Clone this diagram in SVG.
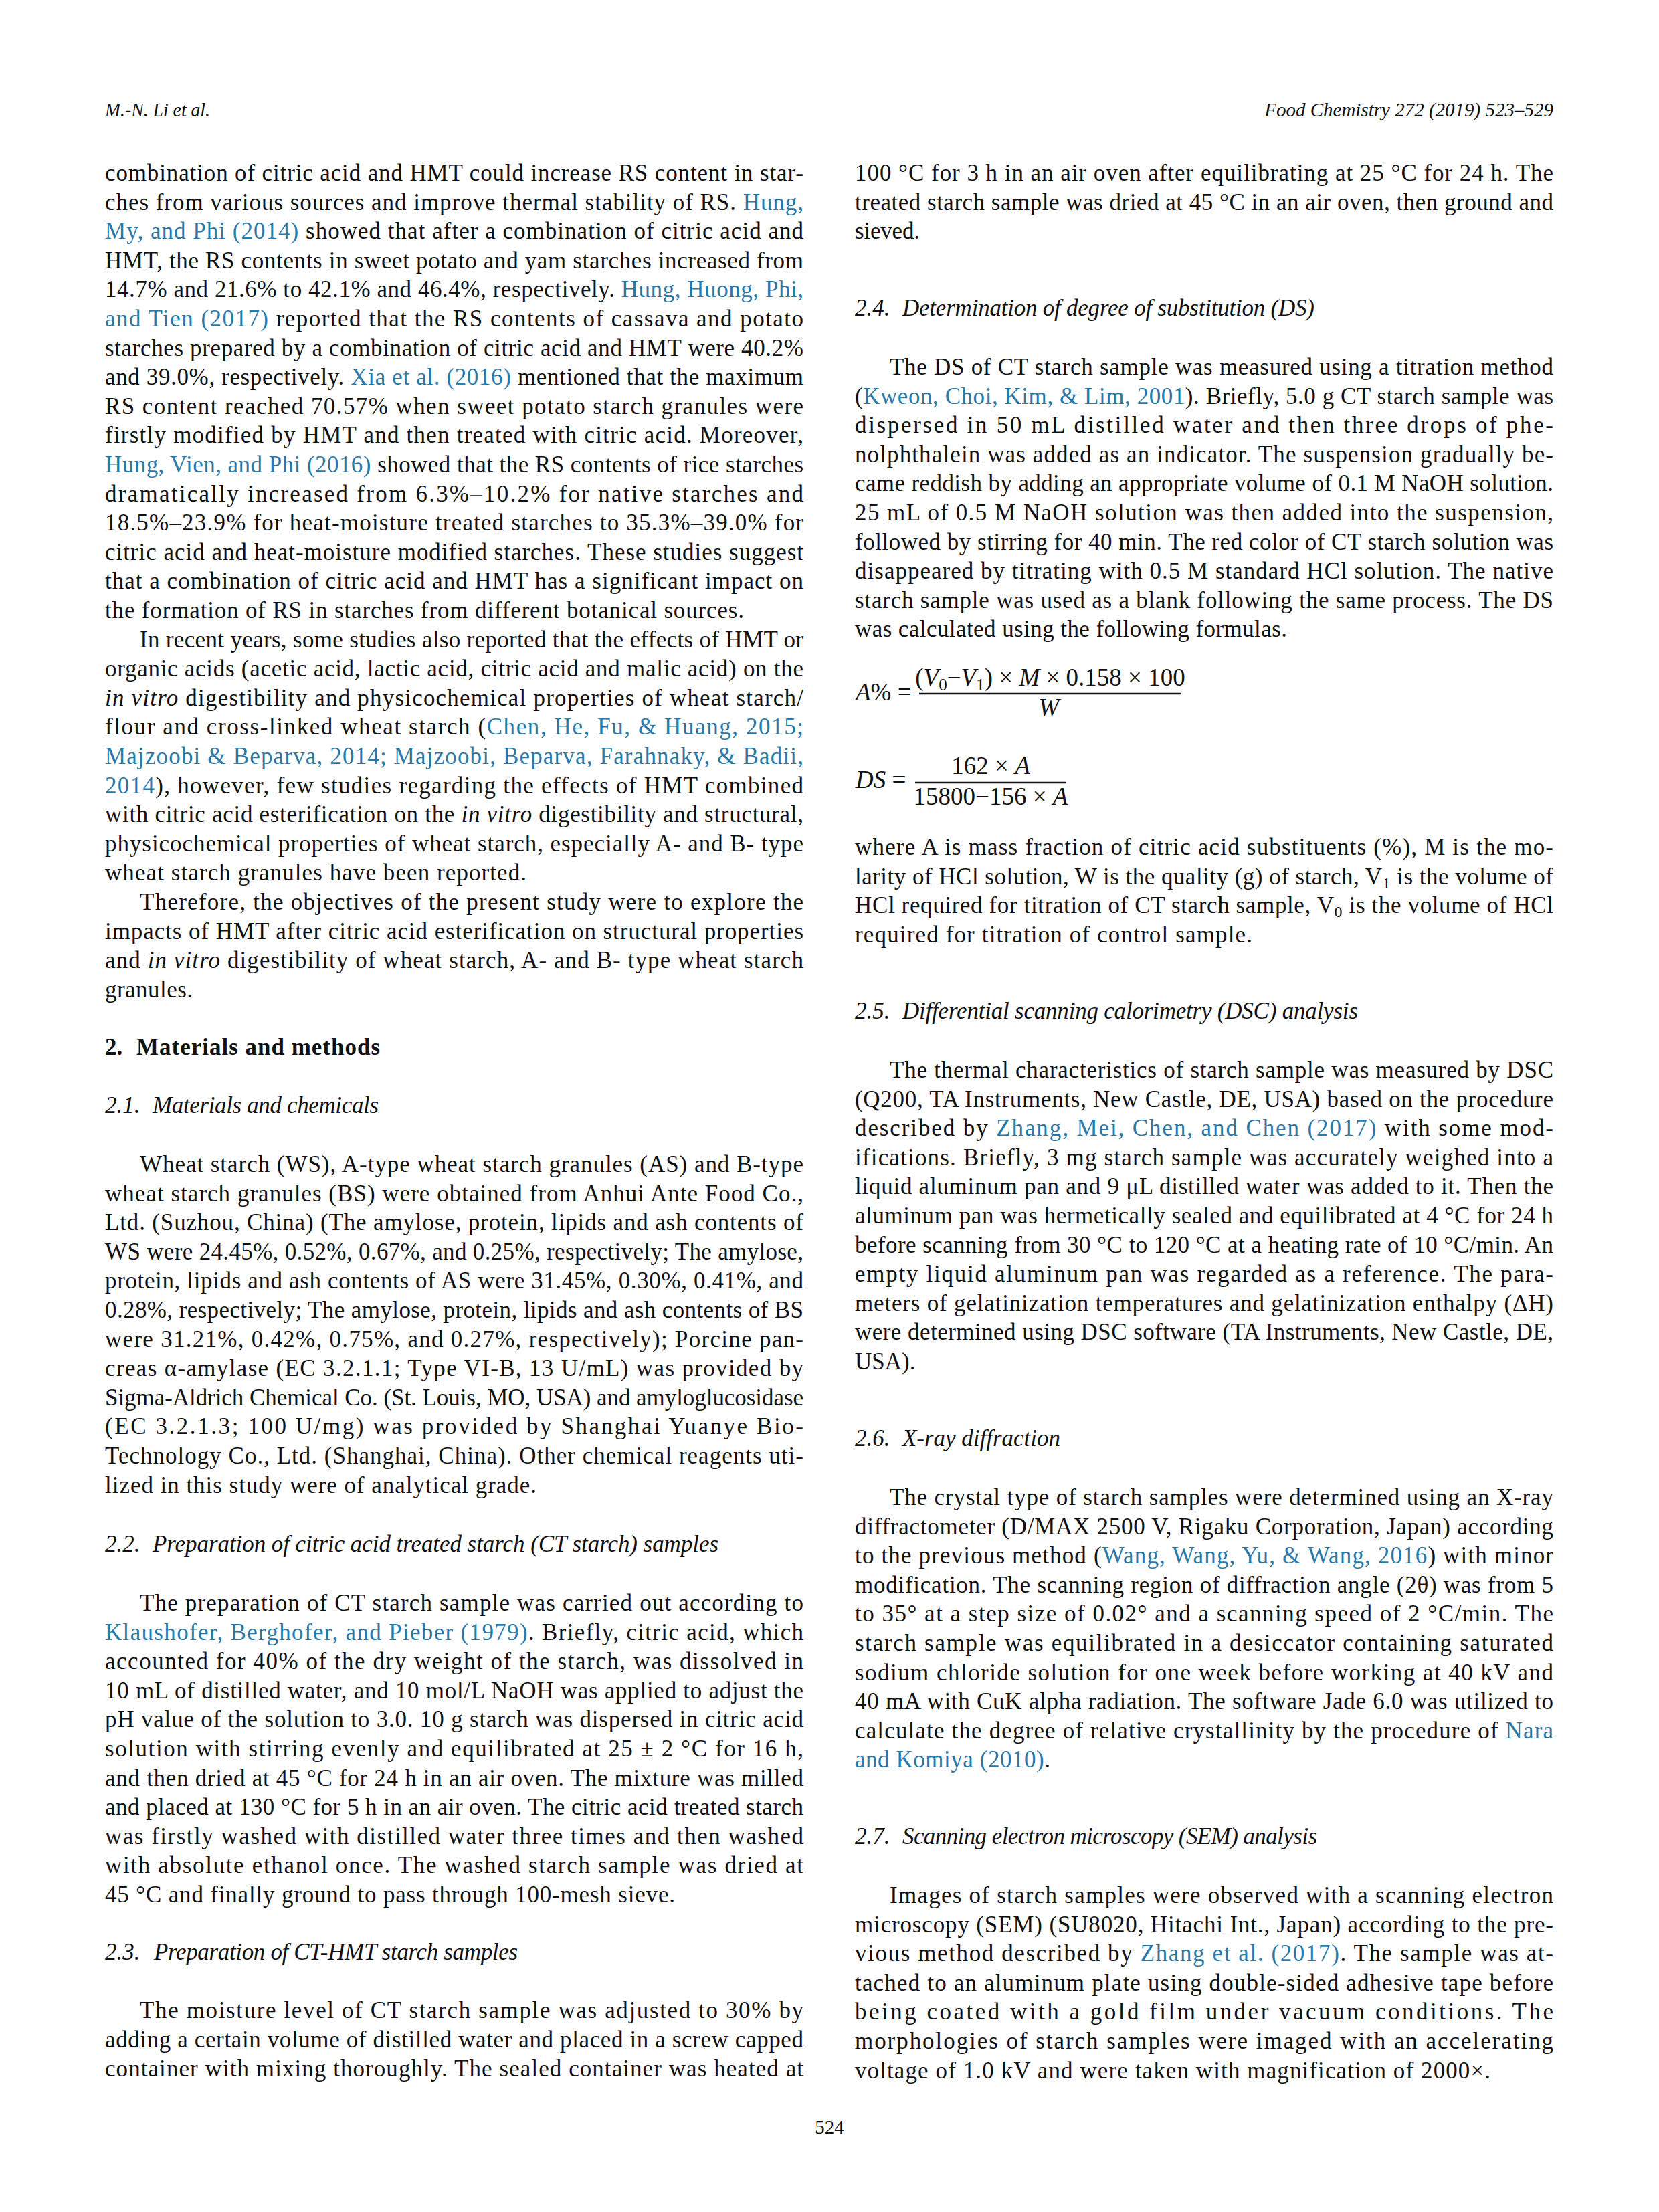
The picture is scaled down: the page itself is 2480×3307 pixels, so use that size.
<svg xmlns="http://www.w3.org/2000/svg" width="2480" height="3307" viewBox="0 0 2480 3307">
<style>
text{font-family:"Liberation Serif","Times New Roman",serif;fill:#111;}
.b{font-size:35px;}
.h{font-size:29px;font-style:italic;}
.hb{font-size:35px;font-weight:bold;}
.hi{font-size:35px;font-style:italic;}
.l{fill:#2a79a8;}
.i{font-style:italic;}
.f{font-size:37px;}
.pn{font-size:29px;}
</style>
<rect width="2480" height="3307" fill="#fff"/>
<g id="header">
<text class="h" x="157" y="174" textLength="157" lengthAdjust="spacingAndGlyphs">M.-N. Li et al.</text>
<text class="h" x="2322" y="174" text-anchor="end">Food Chemistry 272 (2019) 523–529</text>
</g>
<g id="left-column">
<text class="b" x="157" y="270" textLength="1044" lengthAdjust="spacing">combination of citric acid and HMT could increase RS content in star-</text>
<text class="b" x="157" y="313.6" textLength="1044" lengthAdjust="spacing">ches from various sources and improve thermal stability of RS. <tspan class="l">Hung,</tspan></text>
<text class="b" x="157" y="357.2" textLength="1044" lengthAdjust="spacing"><tspan class="l">My, and Phi (2014)</tspan> showed that after a combination of citric acid and</text>
<text class="b" x="157" y="400.8" textLength="1044" lengthAdjust="spacing">HMT, the RS contents in sweet potato and yam starches increased from</text>
<text class="b" x="157" y="444.4" textLength="1044" lengthAdjust="spacing">14.7% and 21.6% to 42.1% and 46.4%, respectively. <tspan class="l">Hung, Huong, Phi,</tspan></text>
<text class="b" x="157" y="488" textLength="1044" lengthAdjust="spacing"><tspan class="l">and Tien (2017)</tspan> reported that the RS contents of cassava and potato</text>
<text class="b" x="157" y="531.6" textLength="1044" lengthAdjust="spacing">starches prepared by a combination of citric acid and HMT were 40.2%</text>
<text class="b" x="157" y="575.2" textLength="1044" lengthAdjust="spacing">and 39.0%, respectively. <tspan class="l">Xia et al. (2016)</tspan> mentioned that the maximum</text>
<text class="b" x="157" y="618.8" textLength="1044" lengthAdjust="spacing">RS content reached 70.57% when sweet potato starch granules were</text>
<text class="b" x="157" y="662.4" textLength="1044" lengthAdjust="spacing">firstly modified by HMT and then treated with citric acid. Moreover,</text>
<text class="b" x="157" y="706" textLength="1044" lengthAdjust="spacing"><tspan class="l">Hung, Vien, and Phi (2016)</tspan> showed that the RS contents of rice starches</text>
<text class="b" x="157" y="749.6" textLength="1044" lengthAdjust="spacing">dramatically increased from 6.3%–10.2% for native starches and</text>
<text class="b" x="157" y="793.2" textLength="1044" lengthAdjust="spacing">18.5%–23.9% for heat-moisture treated starches to 35.3%–39.0% for</text>
<text class="b" x="157" y="836.8" textLength="1044" lengthAdjust="spacing">citric acid and heat-moisture modified starches. These studies suggest</text>
<text class="b" x="157" y="880.4" textLength="1044" lengthAdjust="spacing">that a combination of citric acid and HMT has a significant impact on</text>
<text class="b" x="157" y="924" textLength="955" lengthAdjust="spacing">the formation of RS in starches from different botanical sources.</text>
<text class="b" x="209" y="967.6" textLength="992" lengthAdjust="spacing">In recent years, some studies also reported that the effects of HMT or</text>
<text class="b" x="157" y="1011.2" textLength="1044" lengthAdjust="spacing">organic acids (acetic acid, lactic acid, citric acid and malic acid) on the</text>
<text class="b" x="157" y="1054.8" textLength="1044" lengthAdjust="spacing"><tspan class="i">in vitro</tspan> digestibility and physicochemical properties of wheat starch/</text>
<text class="b" x="157" y="1098.4" textLength="1044" lengthAdjust="spacing">flour and cross-linked wheat starch (<tspan class="l">Chen, He, Fu, &amp; Huang, 2015;</tspan></text>
<text class="b" x="157" y="1142" textLength="1044" lengthAdjust="spacing"><tspan class="l">Majzoobi &amp; Beparva, 2014; Majzoobi, Beparva, Farahnaky, &amp; Badii,</tspan></text>
<text class="b" x="157" y="1185.6" textLength="1044" lengthAdjust="spacing"><tspan class="l">2014</tspan>), however, few studies regarding the effects of HMT combined</text>
<text class="b" x="157" y="1229.2" textLength="1044" lengthAdjust="spacing">with citric acid esterification on the <tspan class="i">in vitro</tspan> digestibility and structural,</text>
<text class="b" x="157" y="1272.8" textLength="1044" lengthAdjust="spacing">physicochemical properties of wheat starch, especially A- and B- type</text>
<text class="b" x="157" y="1316.4" textLength="630" lengthAdjust="spacing">wheat starch granules have been reported.</text>
<text class="b" x="209" y="1360" textLength="992" lengthAdjust="spacing">Therefore, the objectives of the present study were to explore the</text>
<text class="b" x="157" y="1403.6" textLength="1044" lengthAdjust="spacing">impacts of HMT after citric acid esterification on structural properties</text>
<text class="b" x="157" y="1447.2" textLength="1044" lengthAdjust="spacing">and <tspan class="i">in vitro</tspan> digestibility of wheat starch, A- and B- type wheat starch</text>
<text class="b" x="157" y="1490.8" textLength="131" lengthAdjust="spacing">granules.</text>
</g>
<g id="sec-2">
<text class="hb" x="157" y="1577">2.</text>
<text class="hb" x="204" y="1577" textLength="364" lengthAdjust="spacing">Materials and methods</text>
</g>
<g id="sec-2-1">
<text class="hi" x="157" y="1664">2.1.</text>
<text class="hi" x="228" y="1664" textLength="338" lengthAdjust="spacing">Materials and chemicals</text>
<text class="b" x="209" y="1752" textLength="992" lengthAdjust="spacing">Wheat starch (WS), A-type wheat starch granules (AS) and B-type</text>
<text class="b" x="157" y="1795.6" textLength="1044" lengthAdjust="spacing">wheat starch granules (BS) were obtained from Anhui Ante Food Co.,</text>
<text class="b" x="157" y="1839.2" textLength="1044" lengthAdjust="spacing">Ltd. (Suzhou, China) (The amylose, protein, lipids and ash contents of</text>
<text class="b" x="157" y="1882.8" textLength="1044" lengthAdjust="spacing">WS were 24.45%, 0.52%, 0.67%, and 0.25%, respectively; The amylose,</text>
<text class="b" x="157" y="1926.4" textLength="1044" lengthAdjust="spacing">protein, lipids and ash contents of AS were 31.45%, 0.30%, 0.41%, and</text>
<text class="b" x="157" y="1970" textLength="1044" lengthAdjust="spacing">0.28%, respectively; The amylose, protein, lipids and ash contents of BS</text>
<text class="b" x="157" y="2013.6" textLength="1044" lengthAdjust="spacing">were 31.21%, 0.42%, 0.75%, and 0.27%, respectively); Porcine pan-</text>
<text class="b" x="157" y="2057.2" textLength="1044" lengthAdjust="spacing">creas α-amylase (EC 3.2.1.1; Type VI-B, 13 U/mL) was provided by</text>
<text class="b" x="157" y="2100.8" textLength="1044" lengthAdjust="spacing">Sigma-Aldrich Chemical Co. (St. Louis, MO, USA) and amyloglucosidase</text>
<text class="b" x="157" y="2144.4" textLength="1044" lengthAdjust="spacing">(EC 3.2.1.3; 100 U/mg) was provided by Shanghai Yuanye Bio-</text>
<text class="b" x="157" y="2188" textLength="1044" lengthAdjust="spacing">Technology Co., Ltd. (Shanghai, China). Other chemical reagents uti-</text>
<text class="b" x="157" y="2231.6" textLength="645" lengthAdjust="spacing">lized in this study were of analytical grade.</text>
</g>
<g id="sec-2-2">
<text class="hi" x="157" y="2320">2.2.</text>
<text class="hi" x="228" y="2320" textLength="846" lengthAdjust="spacing">Preparation of citric acid treated starch (CT starch) samples</text>
<text class="b" x="209" y="2408" textLength="992" lengthAdjust="spacing">The preparation of CT starch sample was carried out according to</text>
<text class="b" x="157" y="2451.6" textLength="1044" lengthAdjust="spacing"><tspan class="l">Klaushofer, Berghofer, and Pieber (1979)</tspan>. Briefly, citric acid, which</text>
<text class="b" x="157" y="2495.2" textLength="1044" lengthAdjust="spacing">accounted for 40% of the dry weight of the starch, was dissolved in</text>
<text class="b" x="157" y="2538.8" textLength="1044" lengthAdjust="spacing">10 mL of distilled water, and 10 mol/L NaOH was applied to adjust the</text>
<text class="b" x="157" y="2582.4" textLength="1044" lengthAdjust="spacing">pH value of the solution to 3.0. 10 g starch was dispersed in citric acid</text>
<text class="b" x="157" y="2626" textLength="1044" lengthAdjust="spacing">solution with stirring evenly and equilibrated at 25 ± 2 °C for 16 h,</text>
<text class="b" x="157" y="2669.6" textLength="1044" lengthAdjust="spacing">and then dried at 45 °C for 24 h in an air oven. The mixture was milled</text>
<text class="b" x="157" y="2713.2" textLength="1044" lengthAdjust="spacing">and placed at 130 °C for 5 h in an air oven. The citric acid treated starch</text>
<text class="b" x="157" y="2756.8" textLength="1044" lengthAdjust="spacing">was firstly washed with distilled water three times and then washed</text>
<text class="b" x="157" y="2800.4" textLength="1044" lengthAdjust="spacing">with absolute ethanol once. The washed starch sample was dried at</text>
<text class="b" x="157" y="2844" textLength="852" lengthAdjust="spacing">45 °C and finally ground to pass through 100-mesh sieve.</text>
</g>
<g id="sec-2-3">
<text class="hi" x="157" y="2930">2.3.</text>
<text class="hi" x="230" y="2930" textLength="544" lengthAdjust="spacing">Preparation of CT-HMT starch samples</text>
<text class="b" x="209" y="3017" textLength="992" lengthAdjust="spacing">The moisture level of CT starch sample was adjusted to 30% by</text>
<text class="b" x="157" y="3060.6" textLength="1044" lengthAdjust="spacing">adding a certain volume of distilled water and placed in a screw capped</text>
<text class="b" x="157" y="3104.2" textLength="1044" lengthAdjust="spacing">container with mixing thoroughly. The sealed container was heated at</text>
</g>
<g id="right-top">
<text class="b" x="1278" y="270" textLength="1044" lengthAdjust="spacing">100 °C for 3 h in an air oven after equilibrating at 25 °C for 24 h. The</text>
<text class="b" x="1278" y="313.6" textLength="1044" lengthAdjust="spacing">treated starch sample was dried at 45 °C in an air oven, then ground and</text>
<text class="b" x="1278" y="357.2" textLength="97" lengthAdjust="spacing">sieved.</text>
</g>
<g id="sec-2-4">
<text class="hi" x="1278" y="472">2.4.</text>
<text class="hi" x="1349" y="472" textLength="616" lengthAdjust="spacing">Determination of degree of substitution (DS)</text>
<text class="b" x="1330" y="560" textLength="992" lengthAdjust="spacing">The DS of CT starch sample was measured using a titration method</text>
<text class="b" x="1278" y="603.6" textLength="1044" lengthAdjust="spacing">(<tspan class="l">Kweon, Choi, Kim, &amp; Lim, 2001</tspan>). Briefly, 5.0 g CT starch sample was</text>
<text class="b" x="1278" y="647.2" textLength="1044" lengthAdjust="spacing">dispersed in 50 mL distilled water and then three drops of phe-</text>
<text class="b" x="1278" y="690.8" textLength="1044" lengthAdjust="spacing">nolphthalein was added as an indicator. The suspension gradually be-</text>
<text class="b" x="1278" y="734.4" textLength="1044" lengthAdjust="spacing">came reddish by adding an appropriate volume of 0.1 M NaOH solution.</text>
<text class="b" x="1278" y="778" textLength="1044" lengthAdjust="spacing">25 mL of 0.5 M NaOH solution was then added into the suspension,</text>
<text class="b" x="1278" y="821.6" textLength="1044" lengthAdjust="spacing">followed by stirring for 40 min. The red color of CT starch solution was</text>
<text class="b" x="1278" y="865.2" textLength="1044" lengthAdjust="spacing">disappeared by titrating with 0.5 M standard HCl solution. The native</text>
<text class="b" x="1278" y="908.8" textLength="1044" lengthAdjust="spacing">starch sample was used as a blank following the same process. The DS</text>
<text class="b" x="1278" y="952.4" textLength="646" lengthAdjust="spacing">was calculated using the following formulas.</text>
</g>
<g id="formulas">
<text class="f" x="1279" y="1047"><tspan class="i">A</tspan>% =</text>
<text class="f" x="1570" y="1025" text-anchor="middle">(<tspan class="i">V</tspan><tspan font-size="25" dy="7">0</tspan><tspan dy="-7">−</tspan><tspan class="i">V</tspan><tspan font-size="25" dy="7">1</tspan><tspan dy="-7">) × </tspan><tspan class="i">M</tspan> × 0.158 × 100</text>
<line x1="1374" y1="1037" x2="1766" y2="1037" stroke="#111" stroke-width="2.4"/>
<text class="f i" x="1568" y="1070" text-anchor="middle">W</text>
<text class="f" x="1279" y="1178"><tspan class="i">DS</tspan> =</text>
<text class="f" x="1481" y="1157" text-anchor="middle">162 × <tspan class="i">A</tspan></text>
<line x1="1368" y1="1170" x2="1594" y2="1170" stroke="#111" stroke-width="2.4"/>
<text class="f" x="1481" y="1203" text-anchor="middle">15800−156 × <tspan class="i">A</tspan></text>
</g>
<g id="where">
<text class="b" x="1278" y="1278" textLength="1044" lengthAdjust="spacing">where A is mass fraction of citric acid substituents (%), M is the mo-</text>
<text class="b" x="1278" y="1321.6" textLength="1044" lengthAdjust="spacing">larity of HCl solution, W is the quality (g) of starch, V<tspan font-size="24" dy="6">1</tspan><tspan dy="-6"> is the volume of</tspan></text>
<text class="b" x="1278" y="1365.2" textLength="1044" lengthAdjust="spacing">HCl required for titration of CT starch sample, V<tspan font-size="24" dy="6">0</tspan><tspan dy="-6"> is the volume of HCl</tspan></text>
<text class="b" x="1278" y="1408.8" textLength="594" lengthAdjust="spacing">required for titration of control sample.</text>
</g>
<g id="sec-2-5">
<text class="hi" x="1278" y="1523">2.5.</text>
<text class="hi" x="1349" y="1523" textLength="681" lengthAdjust="spacing">Differential scanning calorimetry (DSC) analysis</text>
<text class="b" x="1330" y="1611" textLength="992" lengthAdjust="spacing">The thermal characteristics of starch sample was measured by DSC</text>
<text class="b" x="1278" y="1654.6" textLength="1044" lengthAdjust="spacing">(Q200, TA Instruments, New Castle, DE, USA) based on the procedure</text>
<text class="b" x="1278" y="1698.2" textLength="1044" lengthAdjust="spacing">described by <tspan class="l">Zhang, Mei, Chen, and Chen (2017)</tspan> with some mod-</text>
<text class="b" x="1278" y="1741.8" textLength="1044" lengthAdjust="spacing">ifications. Briefly, 3 mg starch sample was accurately weighed into a</text>
<text class="b" x="1278" y="1785.4" textLength="1044" lengthAdjust="spacing">liquid aluminum pan and 9 μL distilled water was added to it. Then the</text>
<text class="b" x="1278" y="1829" textLength="1044" lengthAdjust="spacing">aluminum pan was hermetically sealed and equilibrated at 4 °C for 24 h</text>
<text class="b" x="1278" y="1872.6" textLength="1044" lengthAdjust="spacing">before scanning from 30 °C to 120 °C at a heating rate of 10 °C/min. An</text>
<text class="b" x="1278" y="1916.2" textLength="1044" lengthAdjust="spacing">empty liquid aluminum pan was regarded as a reference. The para-</text>
<text class="b" x="1278" y="1959.8" textLength="1044" lengthAdjust="spacing">meters of gelatinization temperatures and gelatinization enthalpy (ΔH)</text>
<text class="b" x="1278" y="2003.4" textLength="1044" lengthAdjust="spacing">were determined using DSC software (TA Instruments, New Castle, DE,</text>
<text class="b" x="1278" y="2047">USA).</text>
</g>
<g id="sec-2-6">
<text class="hi" x="1278" y="2162">2.6.</text>
<text class="hi" x="1349" y="2162" textLength="236" lengthAdjust="spacing">X-ray diffraction</text>
<text class="b" x="1330" y="2250" textLength="992" lengthAdjust="spacing">The crystal type of starch samples were determined using an X-ray</text>
<text class="b" x="1278" y="2293.6" textLength="1044" lengthAdjust="spacing">diffractometer (D/MAX 2500 V, Rigaku Corporation, Japan) according</text>
<text class="b" x="1278" y="2337.2" textLength="1044" lengthAdjust="spacing">to the previous method (<tspan class="l">Wang, Wang, Yu, &amp; Wang, 2016</tspan>) with minor</text>
<text class="b" x="1278" y="2380.8" textLength="1044" lengthAdjust="spacing">modification. The scanning region of diffraction angle (2θ) was from 5</text>
<text class="b" x="1278" y="2424.4" textLength="1044" lengthAdjust="spacing">to 35° at a step size of 0.02° and a scanning speed of 2 °C/min. The</text>
<text class="b" x="1278" y="2468" textLength="1044" lengthAdjust="spacing">starch sample was equilibrated in a desiccator containing saturated</text>
<text class="b" x="1278" y="2511.6" textLength="1044" lengthAdjust="spacing">sodium chloride solution for one week before working at 40 kV and</text>
<text class="b" x="1278" y="2555.2" textLength="1044" lengthAdjust="spacing">40 mA with CuK alpha radiation. The software Jade 6.0 was utilized to</text>
<text class="b" x="1278" y="2598.8" textLength="1044" lengthAdjust="spacing">calculate the degree of relative crystallinity by the procedure of <tspan class="l">Nara</tspan></text>
<text class="b" x="1278" y="2642.4" textLength="292" lengthAdjust="spacing"><tspan class="l">and Komiya (2010)</tspan>.</text>
</g>
<g id="sec-2-7">
<text class="hi" x="1278" y="2757">2.7.</text>
<text class="hi" x="1349" y="2757" textLength="620" lengthAdjust="spacing">Scanning electron microscopy (SEM) analysis</text>
<text class="b" x="1330" y="2845" textLength="992" lengthAdjust="spacing">Images of starch samples were observed with a scanning electron</text>
<text class="b" x="1278" y="2888.6" textLength="1044" lengthAdjust="spacing">microscopy (SEM) (SU8020, Hitachi Int., Japan) according to the pre-</text>
<text class="b" x="1278" y="2932.2" textLength="1044" lengthAdjust="spacing">vious method described by <tspan class="l">Zhang et al. (2017)</tspan>. The sample was at-</text>
<text class="b" x="1278" y="2975.8" textLength="1044" lengthAdjust="spacing">tached to an aluminum plate using double-sided adhesive tape before</text>
<text class="b" x="1278" y="3019.4" textLength="1044" lengthAdjust="spacing">being coated with a gold film under vacuum conditions. The</text>
<text class="b" x="1278" y="3063" textLength="1044" lengthAdjust="spacing">morphologies of starch samples were imaged with an accelerating</text>
<text class="b" x="1278" y="3106.6" textLength="950" lengthAdjust="spacing">voltage of 1.0 kV and were taken with magnification of 2000×.</text>
</g>
<g id="footer">
<text class="pn" x="1240" y="3190" text-anchor="middle">524</text>
</g>
</svg>
